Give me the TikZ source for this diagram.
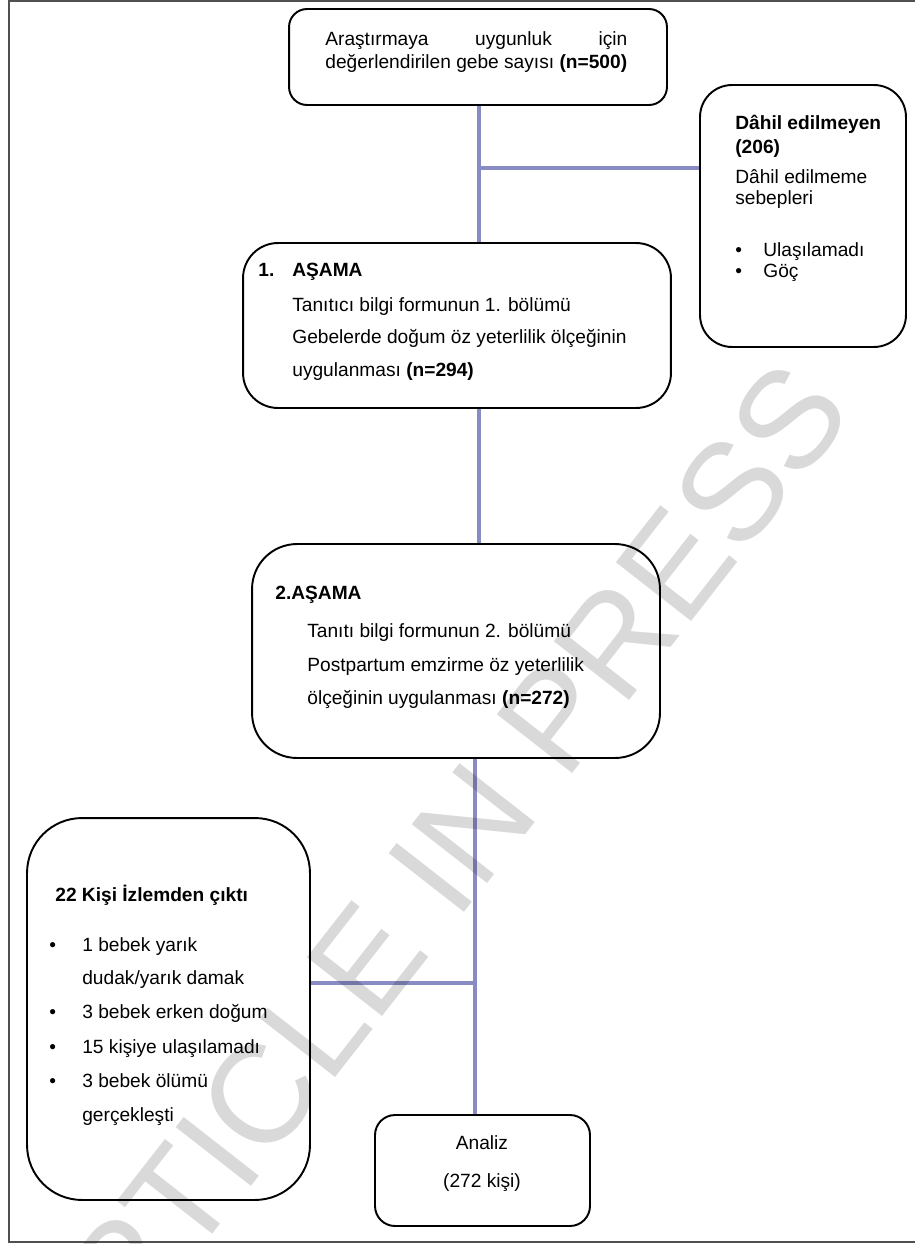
\documentclass[tikz,border=0pt]{standalone}
\usepackage{fontspec}
\setmainfont{Liberation Sans}
\definecolor{linkblue}{RGB}{137,139,197}
\definecolor{framegray}{RGB}{80,80,80}
\begin{document}
\begin{tikzpicture}[x=0.02cm,y=-0.02cm,
  font=\fontsize{10.9}{13}\selectfont,
  box/.style={draw=black, line width=1.1pt, rounded corners=#1, inner sep=0pt, fill=none},
  txt/.style={anchor=base west, inner sep=0pt},
  ctxt/.style={anchor=base, inner sep=0pt},
  conn/.style={draw=linkblue, line width=2.8pt}]
\useasboundingbox (0,0) rectangle (915,1244);
% outer frame
\draw[line width=1.2pt, draw=framegray] (917,1) -- (9,1) -- (9,1242) -- (917,1242);

% boxes
\node[box=0.36cm, minimum width=7.56cm, minimum height=1.92cm] (b1) at (478,57) {};
\node[box=0.64cm, minimum width=4.12cm, minimum height=5.24cm] (excl) at (803,216) {};
\node[box=0.7cm, minimum width=8.56cm, minimum height=3.3cm] (b2) at (457,325.5) {};
\node[box=0.9cm, minimum width=8.16cm, minimum height=4.28cm] (b3) at (456,651) {};
\node[box=1.1cm, minimum width=5.66cm, minimum height=7.64cm] (lost) at (168.5,1009) {};
\node[box=0.4cm, minimum width=4.3cm, minimum height=2.22cm] (ana) at (482.5,1170.5) {};

% connectors
\coordinate (j1) at (479,168);
\coordinate (j2) at (475,983);
\draw[conn] (b1.south -| j1) -- (b2.north -| j1);
\draw[conn] (j1) -- (excl.west |- j1);
\draw[conn] (b2.south -| j1) -- (b3.north -| j1);
\draw[conn] (b3.south -| j2) -- (ana.north -| j2);
\draw[conn] (j2) -- (lost.east |- j2);

% box 1 text
\node[txt] (b1a) at (325,45) {\hbox to 6.04cm{Araştırmaya\hfill uygunluk\hfill için}};
\node[txt] (b1b) at (325,68) {değerlendirilen gebe sayısı \textbf{(n=500)}};

% excluded box text
\node[txt] (exa) at (735,129) {\textbf{Dâhil edilmeyen}};
\node[txt] (exb) at (735,153) {\textbf{(206)}};
\node[txt] (exc) at (735,183) {Dâhil edilmeme};
\node[txt] (exd) at (735,204) {sebepleri};
\node[txt] (exe) at (735,256) {•};
\node[txt] (exf) at (763,256) {Ulaşılamadı};
\node[txt] (exg) at (735,277) {•};
\node[txt] (exh) at (763,277) {Göç};

% box 2 text
\node[txt] (b2a) at (258,276) {\textbf{1.}};
\node[txt] (b2b) at (292,276) {\textbf{AŞAMA}};
\node[txt] (b2c) at (292,311) {Tanıtıcı bilgi formunun 1. bölümü};
\node[txt] (b2d) at (292,343) {Gebelerde doğum öz yeterlilik ölçeğinin};
\node[txt] (b2e) at (292,376) {uygulanması \textbf{(n=294)}};

% box 3 text
\node[txt] (b3a) at (275,599) {\textbf{2.AŞAMA}};
\node[txt] (b3b) at (307,637) {Tanıtı bilgi formunun 2. bölümü};
\node[txt] (b3c) at (307,671) {Postpartum emzirme öz yeterlilik};
\node[txt] (b3d) at (307,704) {ölçeğinin uygulanması \textbf{(n=272)}};

% lost box text
\node[txt] (la) at (55,901) {\textbf{22 Kişi İzlemden çıktı}};
\node[txt] (lb1) at (49,951) {•};
\node[txt] (lb) at (82,951) {1 bebek yarık};
\node[txt] (lc) at (82,984) {dudak/yarık damak};
\node[txt] (ld1) at (49,1018) {•};
\node[txt] (ld) at (82,1018) {3 bebek erken doğum};
\node[txt] (le1) at (49,1053) {•};
\node[txt] (le) at (82,1053) {15 kişiye ulaşılamadı};
\node[txt] (lf1) at (49,1087) {•};
\node[txt] (lf) at (82,1087) {3 bebek ölümü};
\node[txt] (lg) at (82,1121) {gerçekleşti};

% analysis box text
\node[ctxt] (aa) at (482,1149) {Analiz};
\node[ctxt] (ab) at (482,1187) {(272 kişi)};

% watermark
\node[rotate=52, text=black, opacity=0.15, inner sep=0pt,
  font=\fontsize{79}{79}\selectfont] (wm) at (427,883) {ARTICLE IN PRESS};
\end{tikzpicture}
\end{document}
